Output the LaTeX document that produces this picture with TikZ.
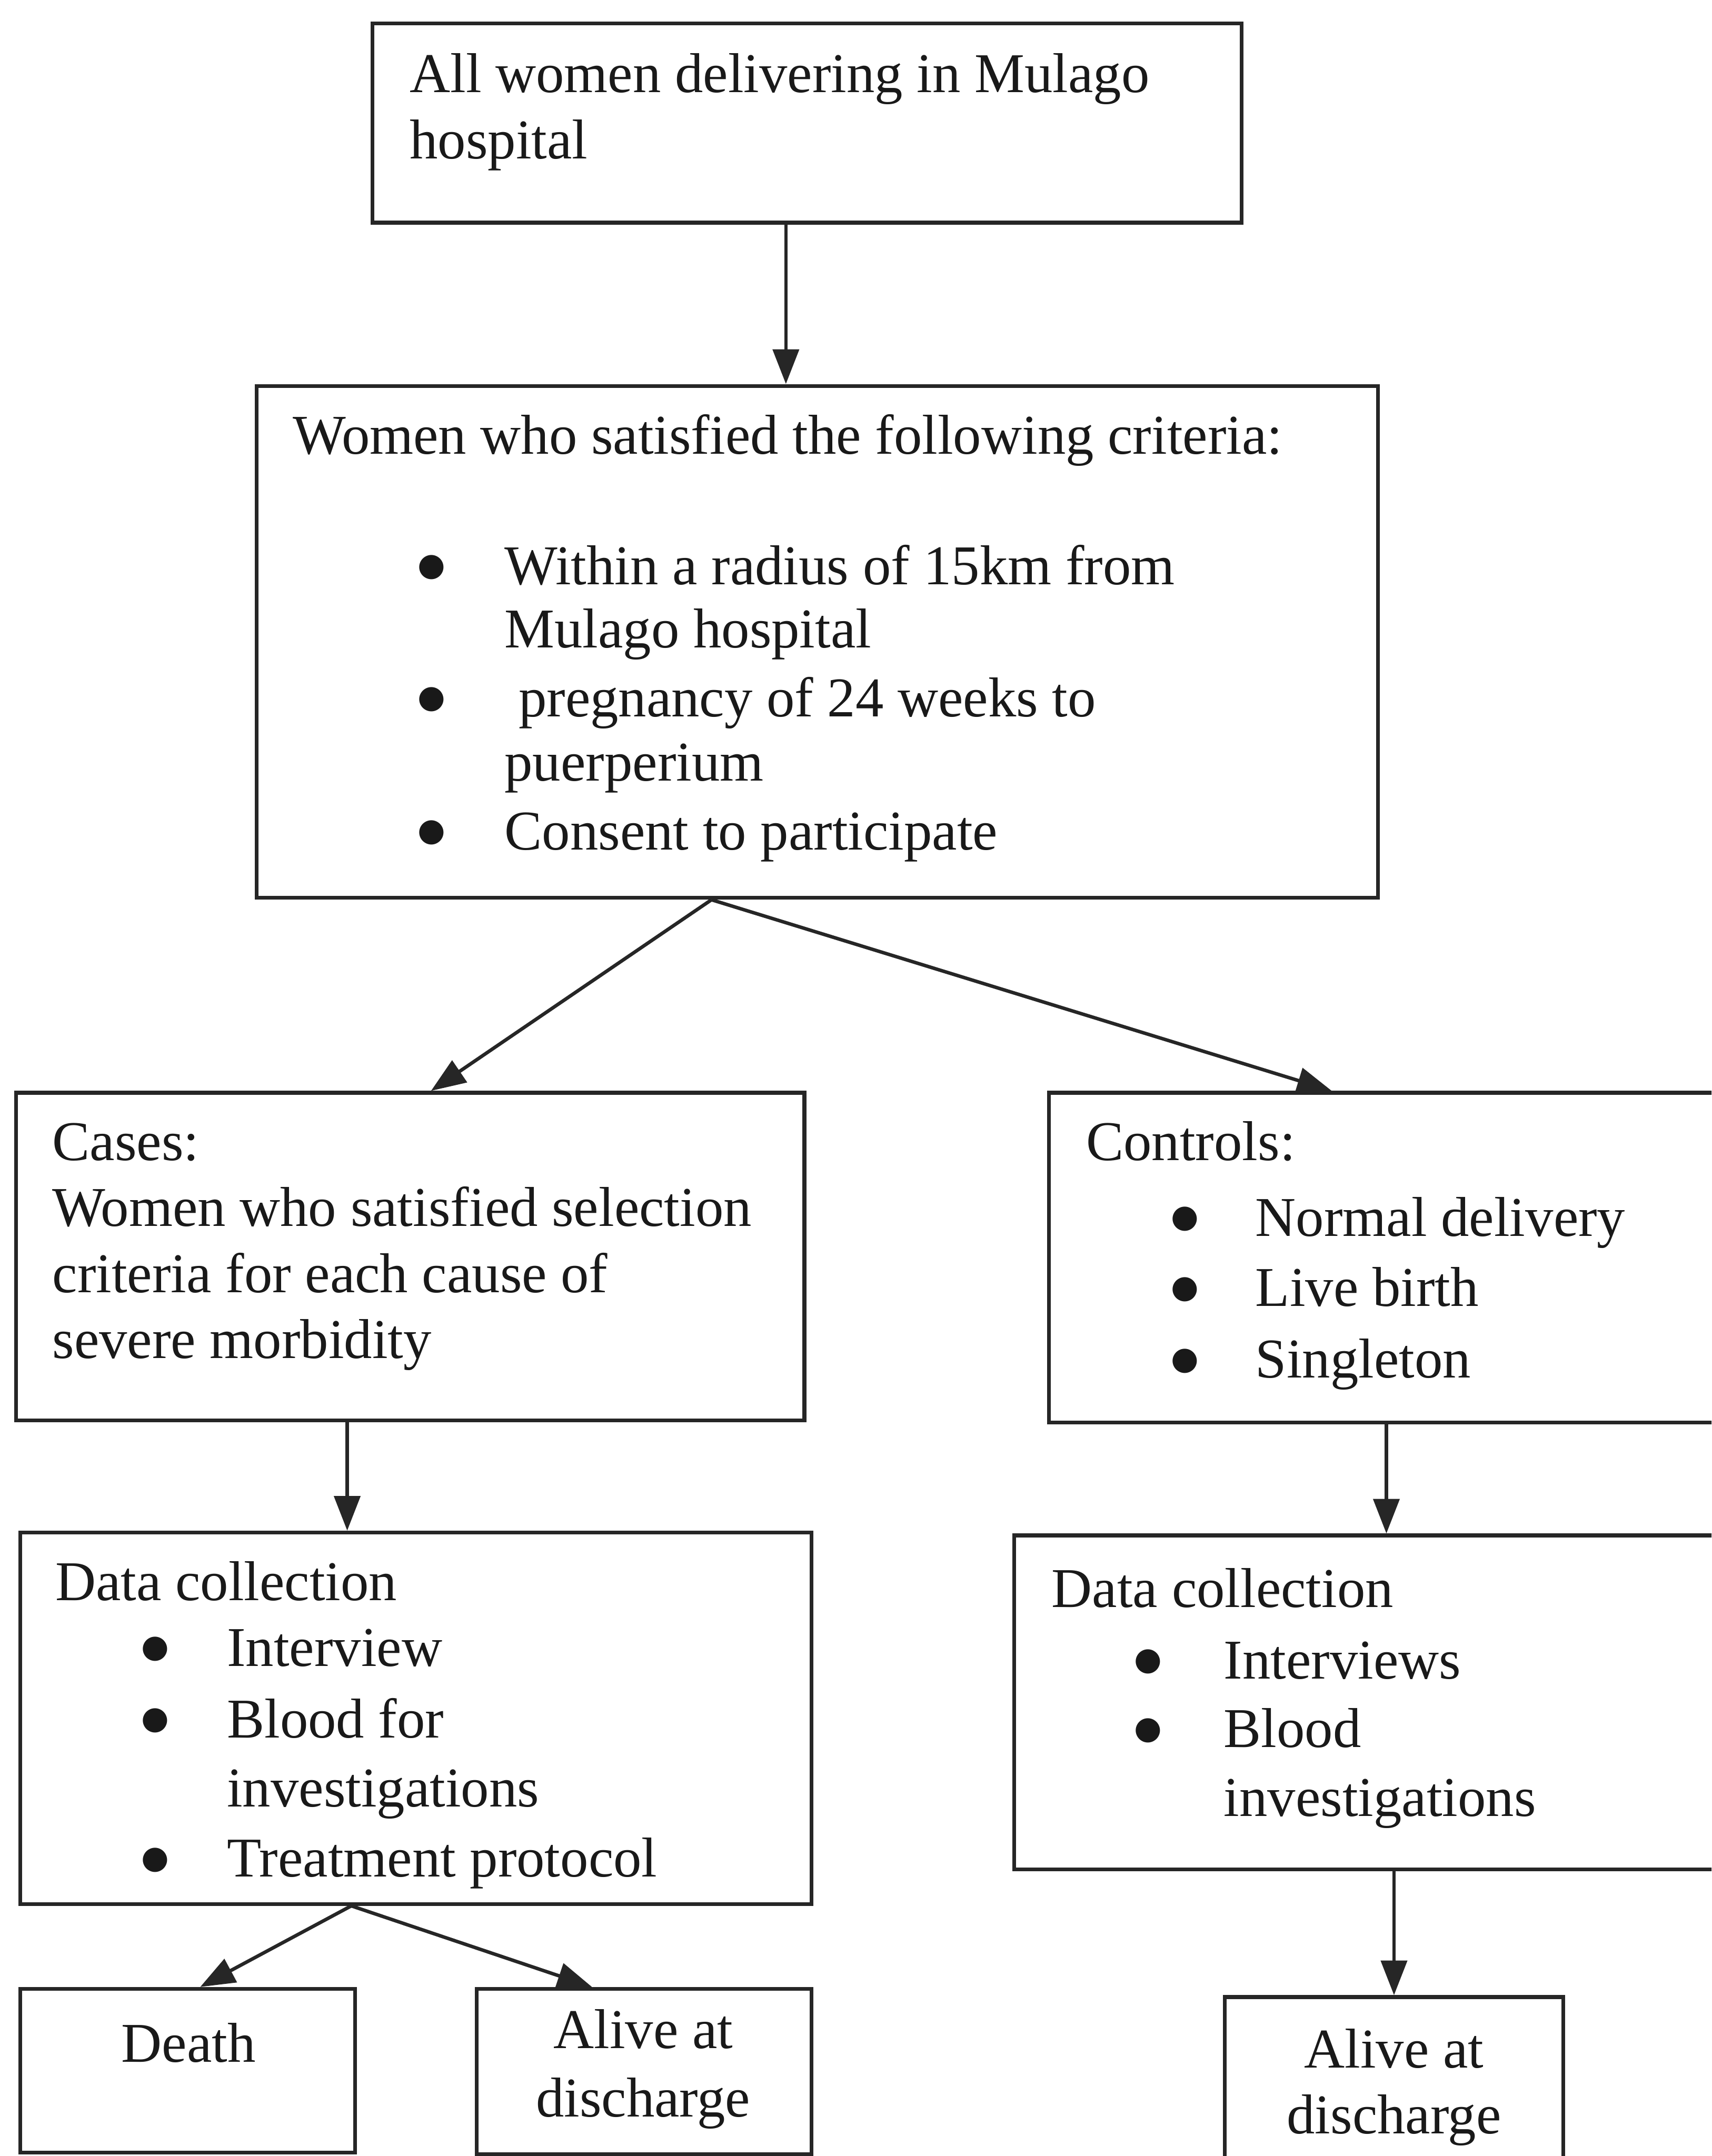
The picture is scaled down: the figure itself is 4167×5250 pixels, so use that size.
\documentclass[tikz,border=0pt]{standalone}
\usepackage{fontspec}
\setmainfont{Liberation Serif}
\newfontfamily\djv{DejaVu Sans}
\usetikzlibrary{arrows.meta}
\newcommand\bigbul{\raisebox{6pt}{\djv\fontsize{22}{22}\selectfont ●}}
\tikzset{
  box/.style={draw=black!85, line width=2.6pt, rectangle, inner sep=0pt},
  txt/.style={anchor=base west, inner sep=0pt, font=\fontsize{38.9}{45}\selectfont, text=black!90},
  ctxt/.style={anchor=base, inner sep=0pt, font=\fontsize{38.9}{45}\selectfont, text=black!90},
  bul/.style={anchor=base, inner sep=0pt, text=black!90},
  arr/.style={draw=black!85, line width=2.4pt, -{Triangle[length=24pt,width=18pt]}}
}
\begin{document}
\begin{tikzpicture}[x=0.01cm,y=-0.01cm]
\useasboundingbox (0,0) rectangle (4167,5250);
\clip (0,0) rectangle (4167,5250);
\fill[white] (0,0) rectangle (4167,5250);
% boxes
\node[box, minimum width=21.15cm, minimum height=4.85cm] (b1) at (1964.5,299.5) {};
\node[box, minimum width=27.28cm, minimum height=12.46cm] (b2) at (1990,1563) {};
\node[box, minimum width=19.18cm, minimum height=7.97cm] (cases) at (999,3059.5) {};
\node[box, minimum width=16.76cm, minimum height=8.03cm] (ctrl) at (3392,3062.5) {};
\node[box, minimum width=19.25cm, minimum height=9.04cm] (dcl) at (1012.5,4184) {};
\node[box, minimum width=17.60cm, minimum height=8.13cm] (dcr) at (3350,4145.5) {};
\node[box, minimum width=8.14cm, minimum height=3.99cm] (death) at (457,5042.5) {};
\node[box, minimum width=8.14cm, minimum height=4.02cm] (alivel) at (1568,5044) {};
\node[box, minimum width=8.24cm, minimum height=4.27cm] (aliver) at (3394,5076.5) {};
% texts box 1
\node[txt] (t1a) at (997,225) {All women delivering in Mulago};
\node[txt] (t1b) at (997,386) {hospital};
% box 2
\node[txt] (t2a) at (713,1105) {Women who satisfied the following criteria:};
\node[bul] (u2a) at (1051,1423) {\bigbul};
\node[txt] (t2b) at (1228,1423) {Within a radius of 15km from};
\node[txt] (t2c) at (1228,1577) {Mulago hospital};
\node[bul] (u2b) at (1051,1745) {\bigbul};
\node[txt] (t2d) at (1262,1745) {pregnancy of 24 weeks to};
\node[txt] (t2e) at (1228,1902) {puerperium};
\node[bul] (u2c) at (1051,2069) {\bigbul};
\node[txt] (t2f) at (1228,2069) {Consent to participate};
% cases
\node[txt] (t3a) at (127,2826) {Cases:};
\node[txt] (t3b) at (127,2986) {Women who satisfied selection};
\node[txt] (t3c) at (127,3147) {criteria for each cause of};
\node[txt] (t3d) at (127,3308) {severe morbidity};
% controls
\node[txt] (t4a) at (2644,2826) {Controls:};
\node[bul] (u4a) at (2885,3010) {\bigbul};
\node[txt] (t4b) at (3056,3010) {Normal delivery};
\node[bul] (u4b) at (2885,3181) {\bigbul};
\node[txt] (t4c) at (3056,3181) {Live birth};
\node[bul] (u4c) at (2885,3355) {\bigbul};
\node[txt] (t4d) at (3056,3355) {Singleton};
% data collection left
\node[txt] (t5a) at (134,3897) {Data collection};
\node[bul] (u5a) at (378,4057) {\bigbul};
\node[txt] (t5b) at (552,4057) {Interview};
\node[bul] (u5b) at (378,4231) {\bigbul};
\node[txt] (t5c) at (552,4231) {Blood for};
\node[txt] (t5d) at (552,4399) {investigations};
\node[bul] (u5c) at (378,4570) {\bigbul};
\node[txt] (t5e) at (552,4570) {Treatment protocol};
% data collection right
\node[txt] (t6a) at (2560,3914) {Data collection};
\node[bul] (u6a) at (2795,4088) {\bigbul};
\node[txt] (t6b) at (2979,4088) {Interviews};
\node[bul] (u6b) at (2795,4255) {\bigbul};
\node[txt] (t6c) at (2979,4255) {Blood};
\node[txt] (t6d) at (2979,4422) {investigations};
% outcomes
\node[ctxt] (t7a) at (459,5021) {Death};
\node[ctxt] (t8a) at (1566,4988) {Alive at};
\node[ctxt] (t8b) at (1566,5155) {discharge};
\node[ctxt] (t9a) at (3394,5035) {Alive at};
\node[ctxt] (t9b) at (3394,5195) {discharge};
% connectors
\draw[arr] ([xshift=10.11cm]b1.south west) -- ([xshift=10.11cm]b1.south west |- b2.north);
\draw[arr] ([xshift=11.11cm]b2.south west) -- ([xshift=10.14cm]cases.north west);
\draw[arr] ([xshift=11.11cm]b2.south west) -- ([xshift=6.93cm]ctrl.north west);
\draw[arr] ([xshift=8.10cm]cases.south west) -- ([xshift=8.10cm]cases.south west |- dcl.north);
\draw[arr] ([xshift=8.26cm]ctrl.south west) -- ([xshift=8.26cm]ctrl.south west |- dcr.north);
\draw[arr] ([xshift=8.10cm]dcl.south west) -- ([xshift=4.42cm]death.north west);
\draw[arr] ([xshift=8.10cm]dcl.south west) -- ([xshift=2.85cm]alivel.north west);
\draw[arr] (aliver.north |- dcr.south) -- (aliver.north);
\end{tikzpicture}
\end{document}
